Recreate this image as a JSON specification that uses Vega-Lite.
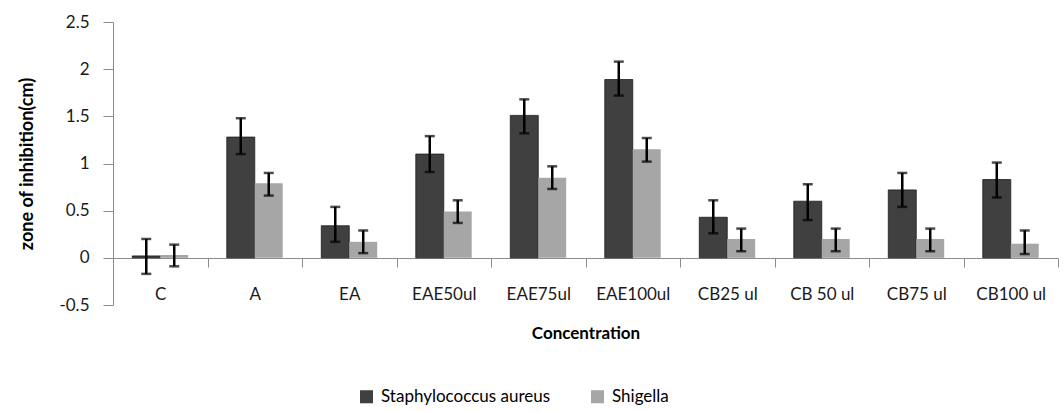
{
  "$schema": "https://vega.github.io/schema/vega-lite/v6.json",
  "width": 945,
  "height": 283,
  "autosize": "none",
  "padding": {"left": 113, "top": 22, "right": 6, "bottom": 106},
  "config": {
    "view": {"stroke": null},
    "font": "Lato",
    "axis": {"grid": false, "domainColor": "#8c8c8c", "tickColor": "#8c8c8c", "labelColor": "#1a1a1a", "titleColor": "#000000"}
  },
  "data": {
    "values": [
      {"cat": "C", "series": "Staphylococcus aureus", "value": 0.02, "lo": -0.17, "hi": 0.2},
      {"cat": "C", "series": "Shigella", "value": 0.03, "lo": -0.09, "hi": 0.14},
      {"cat": "A", "series": "Staphylococcus aureus", "value": 1.28, "lo": 1.1, "hi": 1.48},
      {"cat": "A", "series": "Shigella", "value": 0.79, "lo": 0.66, "hi": 0.9},
      {"cat": "EA", "series": "Staphylococcus aureus", "value": 0.34, "lo": 0.17, "hi": 0.54},
      {"cat": "EA", "series": "Shigella", "value": 0.17, "lo": 0.05, "hi": 0.29},
      {"cat": "EAE50ul", "series": "Staphylococcus aureus", "value": 1.1, "lo": 0.91, "hi": 1.29},
      {"cat": "EAE50ul", "series": "Shigella", "value": 0.49, "lo": 0.37, "hi": 0.61},
      {"cat": "EAE75ul", "series": "Staphylococcus aureus", "value": 1.51, "lo": 1.32, "hi": 1.68},
      {"cat": "EAE75ul", "series": "Shigella", "value": 0.85, "lo": 0.73, "hi": 0.97},
      {"cat": "EAE100ul", "series": "Staphylococcus aureus", "value": 1.89, "lo": 1.72, "hi": 2.08},
      {"cat": "EAE100ul", "series": "Shigella", "value": 1.15, "lo": 1.02, "hi": 1.27},
      {"cat": "CB25 ul", "series": "Staphylococcus aureus", "value": 0.43, "lo": 0.26, "hi": 0.61},
      {"cat": "CB25 ul", "series": "Shigella", "value": 0.2, "lo": 0.07, "hi": 0.31},
      {"cat": "CB 50 ul", "series": "Staphylococcus aureus", "value": 0.6, "lo": 0.4, "hi": 0.78},
      {"cat": "CB 50 ul", "series": "Shigella", "value": 0.2, "lo": 0.07, "hi": 0.31},
      {"cat": "CB75 ul", "series": "Staphylococcus aureus", "value": 0.72, "lo": 0.54, "hi": 0.9},
      {"cat": "CB75 ul", "series": "Shigella", "value": 0.2, "lo": 0.07, "hi": 0.31},
      {"cat": "CB100 ul", "series": "Staphylococcus aureus", "value": 0.83, "lo": 0.64, "hi": 1.01},
      {"cat": "CB100 ul", "series": "Shigella", "value": 0.15, "lo": 0.04, "hi": 0.29}
    ]
  },
  "encoding": {
    "x": {
      "field": "cat", "type": "nominal", "sort": null,
      "scale": {"paddingInner": 0, "paddingOuter": 0},
      "axis": {"title": "Concentration", "labelAngle": 0, "offset": -47, "tickBand": "extent", "tickSize": 9, "labelPadding": 19, "labelFontSize": 17, "titleFontSize": 17, "titleFontWeight": "bold", "titleY": 75, "titleBaseline": "middle"}
    },
    "xOffset": {
      "field": "series", "type": "nominal", "sort": ["Staphylococcus aureus", "Shigella"],
      "scale": {"paddingInner": 0, "paddingOuter": 0.69}
    }
  },
  "layer": [
    {
      "mark": {"type": "bar", "stroke": "#1a1a1a", "strokeWidth": 0.8},
      "encoding": {
        "y": {
          "field": "value", "type": "quantitative",
          "scale": {"domain": [-0.5, 2.5], "nice": false},
          "axis": {"title": "zone of inhibition(cm)", "values": [-0.5, 0, 0.5, 1, 1.5, 2, 2.5], "labelExpr": "replace(format(datum.value, '~g'), '\u2212', '-')", "tickSize": 10, "labelPadding": 14, "labelFontSize": 17, "titleFontSize": 18, "titleFontWeight": "bold", "titlePadding": 22}
        },
        "color": {
          "field": "series", "type": "nominal", "sort": ["Staphylococcus aureus", "Shigella"],
          "scale": {"domain": ["Staphylococcus aureus", "Shigella"], "range": ["#404040", "#a6a6a6"]},
          "legend": {"title": null, "orient": "none", "legendX": 245, "legendY": 366, "direction": "horizontal", "symbolType": "square", "symbolSize": 170, "symbolStrokeWidth": 0, "labelFontSize": 17, "labelLimit": 400, "columnPadding": 38, "labelOffset": 6}
        },
        "strokeOpacity": {"condition": {"test": "datum.series === 'Shigella'", "value": 0}, "value": 1}
      }
    },
    {
      "mark": {"type": "rule", "color": "#000000", "strokeWidth": 2.5},
      "encoding": {
        "y": {"field": "lo", "type": "quantitative"},
        "y2": {"field": "hi"}
      }
    },
    {
      "mark": {"type": "tick", "color": "#000000", "thickness": 2.5, "size": 10},
      "encoding": {"y": {"field": "lo", "type": "quantitative"}}
    },
    {
      "mark": {"type": "tick", "color": "#000000", "thickness": 2.5, "size": 10},
      "encoding": {"y": {"field": "hi", "type": "quantitative"}}
    }
  ]
}
